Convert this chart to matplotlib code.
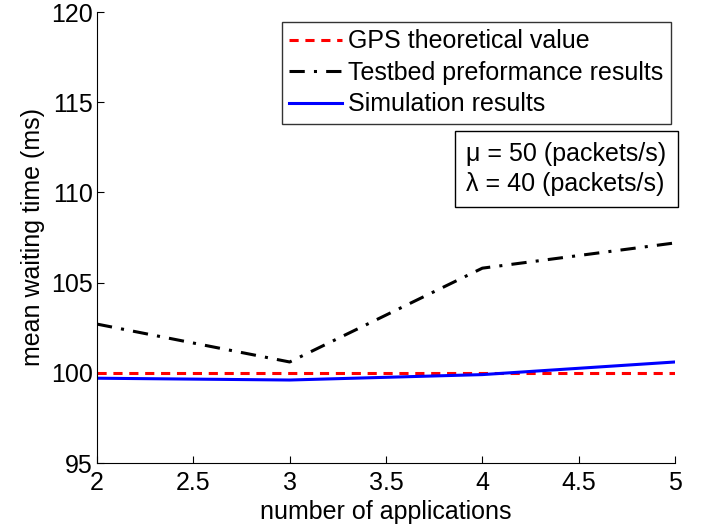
import matplotlib
matplotlib.use("Agg")
import matplotlib.pyplot as plt

x = [2, 3, 4, 5]
gps = [100, 100, 100, 100]
testbed = [102.7, 100.6, 105.8, 107.2]
simulation = [99.7, 99.6, 99.9, 100.6]
xticks = [2, 2.5, 3, 3.5, 4, 4.5, 5]
yticks = [95, 100, 105, 110, 115, 120]

plt.rcParams['font.family'] = ['Liberation Sans', 'DejaVu Sans']
plt.rcParams['font.size'] = 18

fig = plt.figure(figsize=(7.07, 5.32), dpi=100)
ax = fig.add_axes([97/707, 1-463/532, (675-97)/707, (463-12)/532])

ax.plot(x, gps, color='red', linestyle=(0, (3, 2.2)), linewidth=2.2, label='GPS theoretical value')
ax.plot(x, testbed, color='black', linestyle=(0, (5, 3, 1, 3)), linewidth=2.2, label='Testbed preformance results')
ax.plot(x, simulation, color='blue', linestyle='-', linewidth=2.2, label='Simulation results')

ax.set_xlim(2, 5)
ax.set_ylim(95, 120)
ax.set_xticks(xticks)
ax.set_xticklabels(['2', '2.5', '3', '3.5', '4', '4.5', '5'])
ax.set_yticks(yticks)
ax.tick_params(direction='in', length=5, labelsize=18, pad=3)
ax.tick_params(axis='x', pad=6)
ax.spines['top'].set_visible(False)
ax.spines['right'].set_visible(False)
ax.set_xlabel('number of applications', fontsize=18, labelpad=3)
ax.set_ylabel('mean waiting time (ms)', fontsize=18, labelpad=4)

leg = ax.legend(loc='upper right', bbox_to_anchor=(0.993, 0.978), fontsize=18, frameon=True,
                fancybox=False, edgecolor='black', handlelength=2.1, handletextpad=0.25,
                labelspacing=0.3, borderpad=0.3, borderaxespad=0.0)
leg.get_frame().set_linewidth(1.0)

ax.text(0.985, 0.712, 'μ = 50 (packets/s)\nλ = 40 (packets/s)', transform=ax.transAxes,
        ha='right', va='top', fontsize=18, linespacing=1.3, multialignment='left',
        bbox=dict(boxstyle='square,pad=0.45', facecolor='white', edgecolor='black', linewidth=1.0))

fig.savefig('out.png', dpi=100)
